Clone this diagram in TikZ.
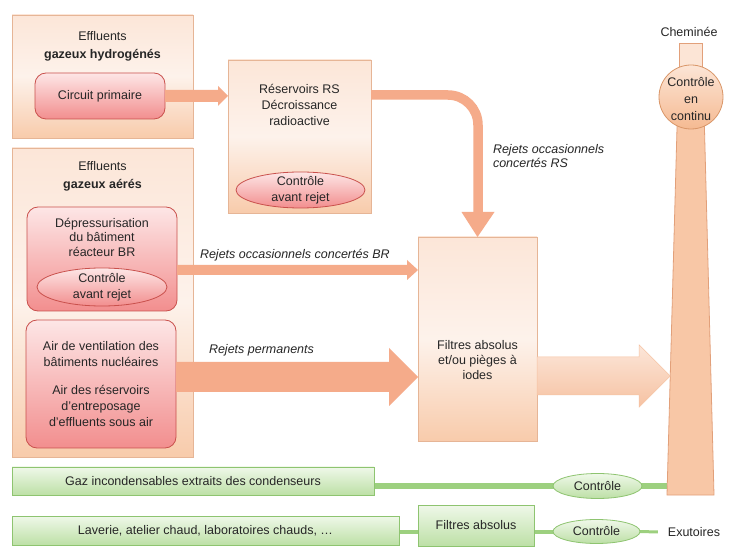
\documentclass[tikz,border=0pt]{standalone}
\usepackage{fontspec}
\setmainfont{Liberation Sans}
\usetikzlibrary{shapes.geometric,calc}
\pgfdeclarelayer{bottom}
\pgfdeclarelayer{background}
\pgfsetlayers{bottom,background,main}
\definecolor{txtc}{HTML}{262626}
\definecolor{peachline}{HTML}{E6B596}
\definecolor{peachtop}{HTML}{FCE6D8}
\definecolor{peachmid}{HTML}{FDF2EB}
\definecolor{peachbot}{HTML}{F8CBAB}
\definecolor{pinkline}{HTML}{C9504C}
\definecolor{pinktop}{HTML}{FDE6E6}
\definecolor{pinkbot}{HTML}{F28E8E}
\definecolor{arrowc}{HTML}{F5AB8A}
\definecolor{outtop}{HTML}{FCE6D9}
\definecolor{outbot}{HTML}{F6C2A2}
\definecolor{greenline}{HTML}{8EC470}
\definecolor{greentop}{HTML}{EFF8E9}
\definecolor{greenbot}{HTML}{BDE0A6}
\definecolor{greenconn}{HTML}{9DD07F}
\definecolor{chimfill}{HTML}{F8C7A6}
\definecolor{chimline}{HTML}{E2A07A}
\definecolor{chimtop}{HTML}{FCE5D6}
\definecolor{chimell}{HTML}{F5BA92}
\definecolor{chimellline}{HTML}{D99668}
\newcommand\myfs[1]{\fontsize{12.5}{#1}\selectfont}
\newcommand\harrow[6]{%
  \path[#1] ($(#2)+(0,-#4)$) -- ($(#3)+(-#6,-#4)$) -- ($(#3)+(-#6,-#5)$) -- (#3)
    -- ($(#3)+(-#6,#5)$) -- ($(#3)+(-#6,#4)$) -- ($(#2)+(0,#4)$) -- cycle;}
\begin{document}
\begin{tikzpicture}[x=1pt,y=-1pt,
  every node/.style={text=txtc, inner sep=0pt, outer sep=0pt},
  txt/.style={align=center},
  peachbox/.style={rectangle, draw=peachline, line width=0.8pt, top color=peachtop, bottom color=peachbot, middle color=peachmid},
  pinkbox/.style={rectangle, rounded corners=11pt, draw=pinkline, line width=0.8pt, top color=pinktop, bottom color=pinkbot, align=center},
  pinkell/.style={ellipse, draw=pinkline, line width=0.8pt, top color=pinktop, bottom color=pinkbot},
  greenbox/.style={rectangle, draw=greenline, line width=0.8pt, top color=greentop, bottom color=greenbot, align=center},
  greenell/.style={ellipse, draw=greenline, line width=0.8pt, top color=greentop, bottom color=greenbot},
  fatarrow/.style={fill=arrowc},
  outarrow/.style={top color=outtop, bottom color=outbot, draw=outbot, line width=0.5pt},
  gconn/.style={draw=greenconn},
  lbl/.style={font=\itshape\myfs{14}, anchor=west, align=left},
  font=\myfs{15}]
\begin{pgfonlayer}{bottom}
\fill[white] (0,0) rectangle (732,548);
\end{pgfonlayer}
\useasboundingbox (0,0) rectangle (732,548);

% ---------- top-left group: hydrogen effluents
\node[peachbox, minimum width=181pt, minimum height=123pt] (hbox) at (102.5,76.5) {};
\node[txt, font=\myfs{18}] (htitle) at (102.5,46) {Effluents\\\textbf{gazeux hydrogénés}};
\node[pinkbox, minimum width=130pt, minimum height=46pt] (circ) at (100,96) {Circuit primaire};

% ---------- RS tanks
\node[peachbox, minimum width=143pt, minimum height=153pt] (rs) at (299.5,136.5) {};
\node[txt, font=\myfs{16}] (rstxt) at (299.5,105) {Réservoirs RS\\Décroissance\\radioactive};
\node[pinkell, minimum width=129pt, minimum height=36pt] (rsctl) at (300.5,190) {};
\node[txt, font=\myfs{16}] (rsctltxt) at (rsctl) {Contrôle\\avant rejet};

% ---------- aerated effluents
\node[peachbox, minimum width=181pt, minimum height=309pt] (abox) at (102.5,302.5) {};
\node[txt, font=\myfs{18}] (atitle) at (102.5,176) {Effluents\\\textbf{gazeux aérés}};
\node[pinkbox, minimum width=150pt, minimum height=104pt] (dep) at (102,259) {};
\node[txt, font=\myfs{14.5}] (deptxt) at (102,237) {Dépressurisation\\du bâtiment\\réacteur BR};
\node[pinkell, minimum width=130pt, minimum height=38pt] (depctl) at (102,287) {};
\node[txt, font=\myfs{16.5}] (depctltxt) at (depctl) {Contrôle\\avant rejet};
\node[pinkbox, minimum width=150pt, minimum height=128pt, font=\myfs{16}] (air) at (101,384)
  {Air de ventilation des\\bâtiments nucléaires\\[12pt]Air des réservoirs\\d’entreposage\\d’effluents sous air};

% ---------- filters
\node[peachbox, minimum width=119pt, minimum height=204pt] (filt) at (477.5,339) {};
\node[txt, font=\myfs{15}] (filttxt) at (477.5,360) {Filtres absolus\\et/ou pièges à\\iodes};

% ---------- chimney
\node (chimlabel) at (689,32) {Cheminée};
\path[draw=chimline, fill=chimtop, line width=0.8pt] (679,43) rectangle (702,72);
\path[draw=chimline, fill=chimfill, line width=0.8pt] (677.5,110) -- (704,110) -- (714,495) -- (667,495) -- cycle;
\node[ellipse, draw=chimellline, line width=0.8pt, top color=chimtop, bottom color=chimell,
      minimum width=64pt, minimum height=64pt] (chimctl) at (691,97) {};
\node[txt, font=\myfs{17}] (chimctltxt) at (691,99) {Contrôle\\en\\continu};
\coordinate (chimA) at (670.2,376);
\coordinate (chimG) at (667.4,486);

% ---------- arrows
% circuit primaire -> RS
\harrow{fatarrow}{circ.east}{rs.west|-circ.east}{6}{10}{10}
% RS -> filters (curved)
\coordinate (rsS) at ($(rs.east)+(0,-41.5)$);
\draw[arrowc, line width=9.5pt] (rsS) -- ++(77,0) arc[start angle=-90, end angle=0, radius=30] -- (478,213);
\fill[arrowc] (461.5,212) -- (494.5,212) -- (filt.north) -- cycle;
\node[lbl] (lblrs) at (493,156) {Rejets occasionnels\\concertés RS};
% BR -> filters
\coordinate (brS) at ($(dep.east)+(0,11)$);
\coordinate (brT) at (filt.west|-brS);
\harrow{fatarrow}{brS}{brT}{5}{10}{11}
\node[lbl] (lblbr) at (200,255) {Rejets occasionnels concertés BR};
% permanent
\coordinate (pmS) at ($(air.east)+(0,-7)$);
\coordinate (pmT) at (filt.west|-pmS);
\harrow{fatarrow}{pmS}{pmT}{15}{29}{29}
\node[lbl] (lblpm) at (209,350) {Rejets permanents};
% filters -> chimney
\coordinate (outS) at (filt.east|-chimA);
\harrow{outarrow}{outS}{chimA}{19}{31}{31}

% ---------- green lines
\node[greenbox, minimum width=362pt, minimum height=28pt] (gaz) at (193,481) {Gaz incondensables extraits des condenseurs};
\node[greenell, minimum width=89pt, minimum height=25pt] (gctl1) at (597.5,486) {Contrôle};
\node[greenbox, minimum width=387pt, minimum height=29pt] (lav) at (205.5,530.5) {Laverie, atelier chaud, laboratoires chauds, …};
\node[greenbox, minimum width=116pt, minimum height=41pt] (filt2) at (476,525.5) {Filtres absolus};
\node[greenell, minimum width=87pt, minimum height=24pt] (gctl2) at (596.5,531.5) {Contrôle};
\node (exu) at (694,532) {Exutoires};
\begin{pgfonlayer}{background}
\draw[gconn, line width=6pt] ($(gaz.east)+(0,5)$) -- (gctl1.center) -- (chimG);
\draw[gconn, line width=4pt] (lav.east|-gctl2) -- (gctl2.center);
\draw[gconn, line width=3pt] (gctl2.east) -- ($(exu.west)+(-10,0)$);
\end{pgfonlayer}
\end{tikzpicture}
\end{document}
